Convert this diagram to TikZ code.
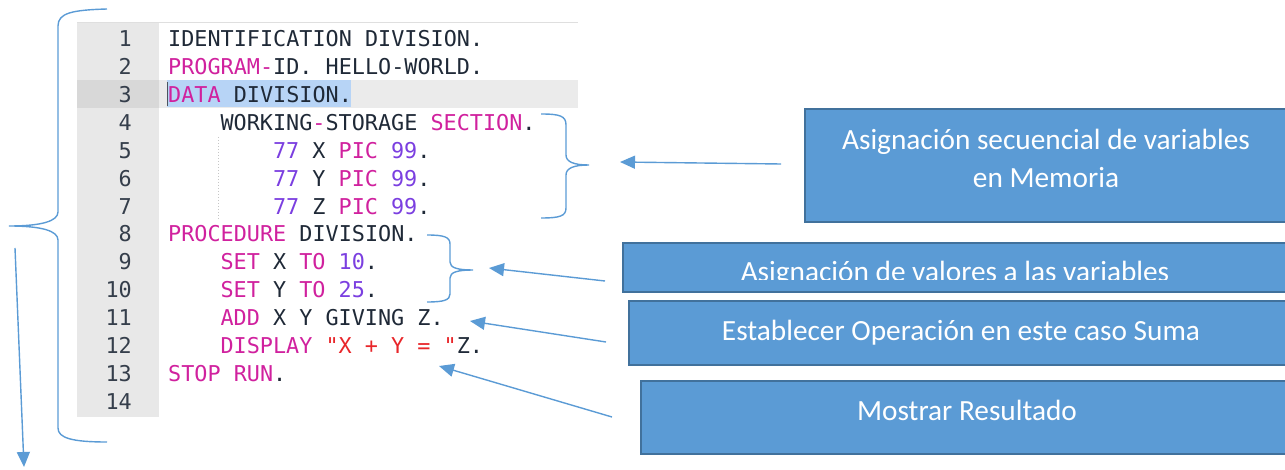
\documentclass[tikz,border=0pt]{standalone}
\usepackage{fontspec}
\setmainfont{Carlito}
\newfontfamily\codefont{DejaVu Sans Mono}
\usetikzlibrary{arrows.meta}

\definecolor{boxfill}{HTML}{5B9BD5}
\definecolor{boxedge}{HTML}{41719C}
\definecolor{linkblue}{HTML}{5B9BD5}
\definecolor{kwcol}{HTML}{D0219E}
\definecolor{numcol}{HTML}{7B3FE0}
\definecolor{strcol}{HTML}{E8262A}
\definecolor{ink}{HTML}{1F2937}
\definecolor{guttercol}{HTML}{E8E8E8}
\definecolor{gutteract}{HTML}{D8D8D8}
\definecolor{lineact}{HTML}{EBEBEB}
\definecolor{selcol}{HTML}{B7D4F6}

\newcommand\kwd[1]{\textcolor{kwcol}{#1}}
\newcommand\nmb[1]{\textcolor{numcol}{#1}}
\newcommand\strg[1]{\textcolor{strcol}{#1}}

\begin{document}
\begin{tikzpicture}[x=1pt,y=-1pt,
  codeline/.style={anchor=base west, inner sep=0pt, text=ink,
    font=\codefont\fontsize{21.8}{26}\selectfont},
  lineno/.style={anchor=base east, inner sep=0pt, text=ink!90,
    font=\codefont\fontsize{21.8}{26}\selectfont},
  callout/.style={draw=boxedge, line width=2pt, fill=boxfill,
    anchor=north west, inner sep=0pt},
  caption/.style={anchor=base, inner sep=0pt, text=white,
    font=\fontsize{29.3}{35}\selectfont},
  brace/.style={draw=linkblue, line width=1.4pt},
  pointer/.style={draw=linkblue, line width=1.4pt,
    -{Triangle[length=15pt,width=13pt]}}
]
\useasboundingbox (0,0) rectangle (1285,470);

% ---- editor panel ----
\fill[guttercol] (77,22) rectangle (159,417);
\draw[gray!25, line width=1.5pt] (77,22.5) -- (578,22.5);
\fill[gutteract] (77,80) rectangle (159,107.9);
\fill[lineact] (159,80) rectangle (578,107.9);
\fill[selcol] (167,80.5) rectangle (351,107.4);
\draw[ink!80, line width=1pt] (167.5,82) -- (167.5,106);
\draw[gray!45, dotted, line width=1pt] (218,137) -- (218,220);

% line numbers
\foreach \n in {1,...,14}
  \node[lineno] (ln\n) at (132, {47+27.85*(\n-1)}) {\n};

% source lines
\node[codeline] (c1)  at (168, 47.00) {IDENTIFICATION DIVISION.};
\node[codeline] (c2)  at (168, 74.85) {\kwd{PROGRAM-}ID. HELLO-WORLD.};
\node[codeline] (c3)  at (168,102.70) {\kwd{DATA} DIVISION.};
\node[codeline] (c4)  at (220.4,130.55) {WORKING\kwd{-}STORAGE \kwd{SECTION}.};
\node[codeline] (c5)  at (272.8,158.40) {\nmb{77} X \kwd{PIC} \nmb{99}.};
\node[codeline] (c6)  at (272.8,186.25) {\nmb{77} Y \kwd{PIC} \nmb{99}.};
\node[codeline] (c7)  at (272.8,214.10) {\nmb{77} Z \kwd{PIC} \nmb{99}.};
\node[codeline] (c8)  at (168,241.95) {\kwd{PROCEDURE} DIVISION.};
\node[codeline] (c9)  at (220.4,269.80) {\kwd{SET} X \kwd{TO} \nmb{10}.};
\node[codeline] (c10) at (220.4,297.65) {\kwd{SET} Y \kwd{TO} \nmb{25}.};
\node[codeline] (c11) at (220.4,325.50) {\kwd{ADD} X Y GIVING Z.};
\node[codeline] (c12) at (220.4,353.35) {\kwd{DISPLAY} \strg{"X + Y = "}Z.};
\node[codeline] (c13) at (168,381.20) {\kwd{STOP RUN}.};

% ---- braces ----
\draw[brace] (107,9) .. controls (72,10) and (58,13) .. (58,26)
  -- (58,212) .. controls (58,221) and (42,226) .. (9,226)
  .. controls (42,226) and (58,231) .. (58,240)
  -- (58,428) .. controls (58,438) and (72,442) .. (107,442);
\draw[brace] (541,114) .. controls (560,114) and (566,116) .. (566,125)
  -- (566,155) .. controls (566,162) and (574,165) .. (589,165)
  .. controls (574,165) and (566,168) .. (566,175)
  -- (566,208) .. controls (566,216) and (560,218) .. (541,218);
\draw[brace] (427,235) .. controls (444,235) and (450,237) .. (450,244)
  -- (450,262) .. controls (450,268) and (458,270) .. (473,270)
  .. controls (458,270) and (450,272) .. (450,278)
  -- (450,294) .. controls (450,300) and (444,302) .. (427,302);

% ---- callout boxes ----
\node[callout, minimum width=486pt, minimum height=113pt] (b1) at (804,108) {};
\node[callout, minimum width=670pt, minimum height=49pt]  (b2) at (622,242) {};
\node[callout, minimum width=664pt, minimum height=64pt]  (b3) at (628,300) {};
\node[callout, minimum width=652pt, minimum height=73pt]  (b4) at (640,380) {};

\node[caption] (t1a) at (1046,150) {Asignación secuencial de variables};
\node[caption] (t1b) at (1046,188) {en Memoria};
\begin{scope}
  \clip (623,243) rectangle (1285,280);
  \node[caption] (t2) at (955,282) {Asignación de valores a las variables};
\end{scope}
\node[caption] (t3) at (961,340) {Establecer Operación en este caso Suma};
\node[caption] (t4) at (967,420) {Mostrar Resultado};

% ---- pointers ----
\coordinate (s1) at (781,164);  \coordinate (e1) at (620,162);
\coordinate (s2) at (605,281);  \coordinate (e2) at (489,268);
\coordinate (s3) at (606,342);  \coordinate (e3) at (470,321);
\coordinate (s4) at (612,417);  \coordinate (e4) at (439,366);
\coordinate (s0) at (15,248);   \coordinate (e0) at (24,467);
\draw[pointer] (s1) -- (e1);
\draw[pointer] (s2) -- (e2);
\draw[pointer] (s3) -- (e3);
\draw[pointer] (s4) -- (e4);
\draw[pointer] (s0) -- (e0);
\end{tikzpicture}
\end{document}
